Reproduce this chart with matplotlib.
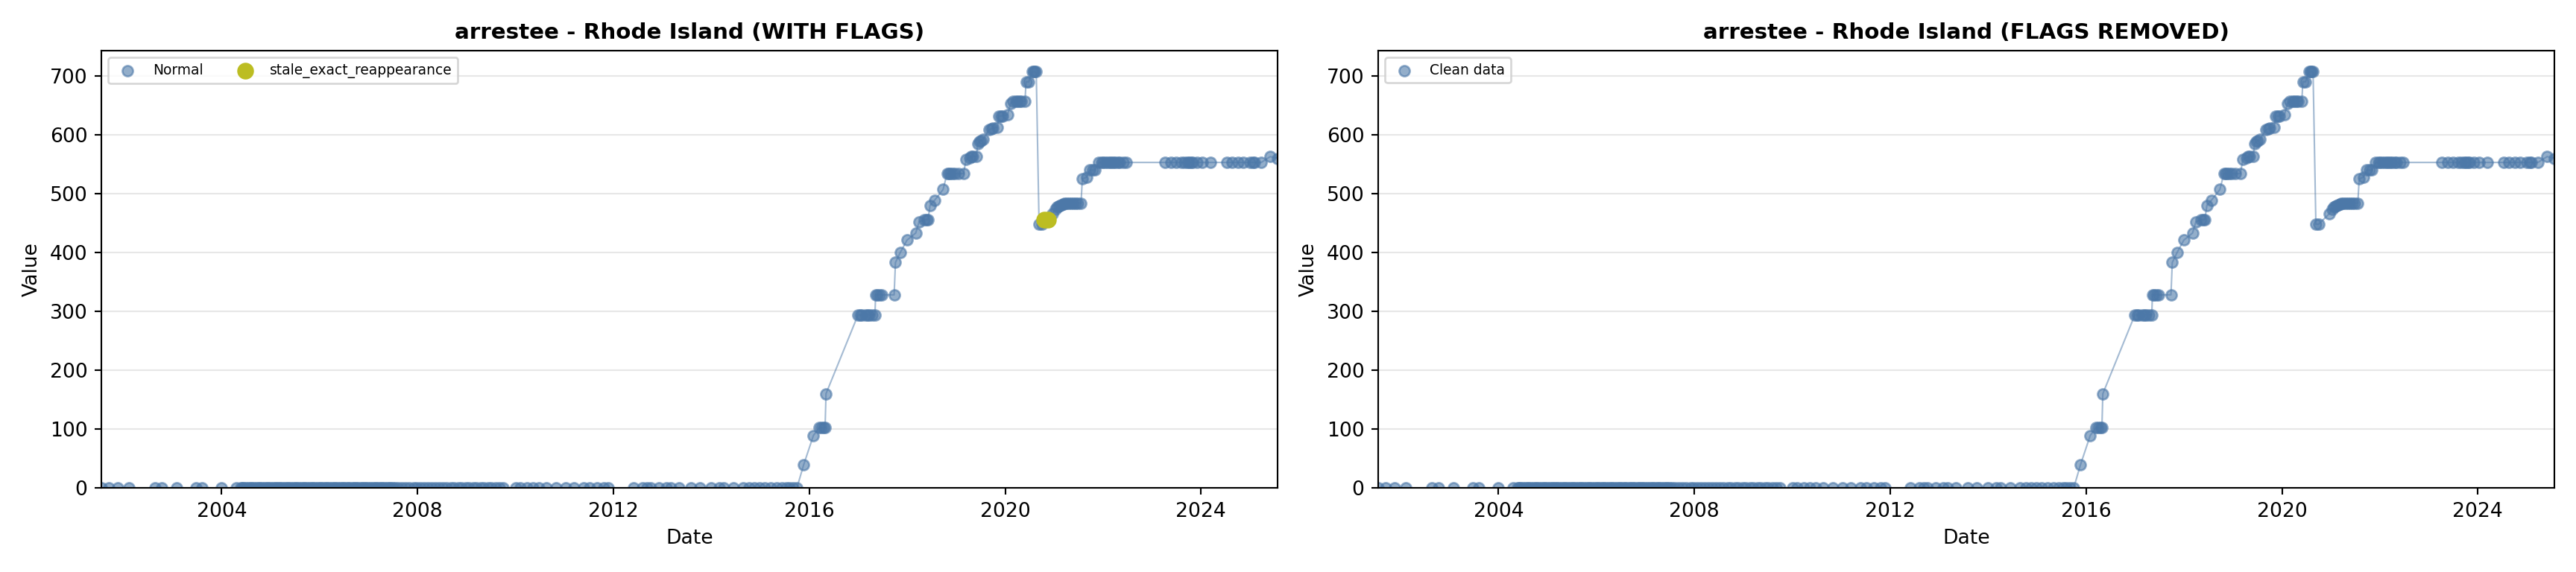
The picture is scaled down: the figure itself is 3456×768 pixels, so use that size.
import matplotlib
matplotlib.use("Agg")
import matplotlib.pyplot as plt
import matplotlib.dates as mdates
import pandas as pd

# ---- data ----
zero_dates = [
    "2001-07-18", "2001-09-10", "2001-11-15", "2002-02-10", "2002-08-25", "2002-10-10",
    "2003-02-01", "2003-06-25", "2003-08-05", "2004-01-01", "2004-04-20", "2004-05-20",
    "2004-06-01", "2004-06-15", "2004-07-01", "2004-07-15", "2004-08-01", "2004-08-15",
    "2004-09-01", "2004-09-15", "2004-10-01", "2004-10-15", "2004-11-01", "2004-11-15",
    "2004-12-01", "2004-12-15", "2005-01-01", "2005-01-15", "2005-02-01", "2005-02-15",
    "2005-03-01", "2005-03-15", "2005-04-01", "2005-04-15", "2005-05-01", "2005-05-15",
    "2005-06-01", "2005-06-15", "2005-07-01", "2005-07-15", "2005-08-01", "2005-08-15",
    "2005-09-01", "2005-09-15", "2005-10-01", "2005-10-15", "2005-11-01", "2005-11-15",
    "2005-12-01", "2005-12-15", "2006-01-01", "2006-01-15", "2006-02-01", "2006-02-15",
    "2006-03-01", "2006-03-15", "2006-04-01", "2006-04-15", "2006-05-01", "2006-05-15",
    "2006-06-01", "2006-06-15", "2006-07-01", "2006-07-15", "2006-08-01", "2006-08-15",
    "2006-09-01", "2006-09-15", "2006-10-01", "2006-10-15", "2006-11-01", "2006-11-15",
    "2006-12-01", "2006-12-15", "2007-01-01", "2007-01-15", "2007-02-01", "2007-02-15",
    "2007-03-01", "2007-03-15", "2007-04-01", "2007-04-15", "2007-05-01", "2007-05-15",
    "2007-06-01", "2007-06-15", "2007-07-01", "2007-07-15",
    "2007-08-10", "2007-09-05", "2007-10-05", "2007-11-01", "2007-12-01", "2007-12-25",
    "2008-01-25", "2008-02-20", "2008-03-20", "2008-04-15", "2008-05-15", "2008-06-10",
    "2008-07-10", "2008-08-05", "2008-09-05", "2008-10-01", "2008-11-01", "2008-11-25",
    "2008-12-25", "2009-01-20", "2009-02-20", "2009-03-15", "2009-04-15", "2009-05-10",
    "2009-06-10", "2009-07-05", "2009-08-05", "2009-09-01", "2009-10-01",
    "2010-01-01", "2010-02-05", "2010-03-25", "2010-05-10", "2010-06-25", "2010-08-20",
    "2010-10-30", "2011-01-10", "2011-03-15", "2011-05-25", "2011-07-10", "2011-09-01",
    "2011-10-20", "2011-11-25",
    "2012-06-01", "2012-08-05", "2012-09-05", "2012-10-05", "2012-12-05", "2013-02-01",
    "2013-03-05", "2013-05-05", "2013-08-01", "2013-10-05", "2013-12-28", "2014-03-01",
    "2014-04-05",
    "2014-06-17", "2014-08-25", "2014-10-08", "2014-11-15", "2014-12-28", "2015-02-05",
    "2015-03-18", "2015-05-01", "2015-06-10", "2015-07-13", "2015-08-08", "2015-09-05",
    "2015-10-01",
]

rise_dates = [
    "2015-11-20", "2016-02-01", "2016-03-15", "2016-04-01", "2016-04-15", "2016-04-28", "2016-05-05",
    "2016-12-30", "2017-01-15", "2017-01-25", "2017-02-20", "2017-03-10", "2017-03-20",
    "2017-04-15", "2017-05-05",
    "2017-05-10", "2017-05-25", "2017-06-10", "2017-06-25", "2017-09-25",
    "2017-10-05", "2017-11-10", "2017-12-30", "2018-03-05", "2018-03-30",
    "2018-05-10", "2018-05-25", "2018-06-05", "2018-06-20", "2018-07-25", "2018-09-25",
    "2018-10-25", "2018-11-10", "2018-11-20", "2018-12-05", "2018-12-20", "2019-01-20",
    "2019-02-25",
    "2019-03-15", "2019-04-10", "2019-04-25", "2019-05-05", "2019-06-01",
    "2019-06-10", "2019-06-25", "2019-07-05", "2019-07-20",
    "2019-09-05", "2019-09-20", "2019-10-01", "2019-11-05",
    "2019-11-15", "2019-12-01", "2019-12-10", "2020-01-20",
    "2020-02-10", "2020-03-01", "2020-03-20", "2020-04-01", "2020-04-20", "2020-05-01",
    "2020-05-28",
    "2020-06-05", "2020-06-25", "2020-07-20", "2020-08-01", "2020-08-10", "2020-08-20",
    "2020-09-10", "2020-09-30",
    "2020-12-20", "2021-01-08", "2021-01-20", "2021-01-30", "2021-02-12", "2021-02-25",
    "2021-03-10", "2021-03-20", "2021-04-05", "2021-04-20", "2021-05-05",
    "2021-05-25", "2021-06-10", "2021-06-25", "2021-07-20",
    "2021-07-30", "2021-08-30", "2021-09-25", "2021-10-15", "2021-11-01",
    "2021-12-01", "2021-12-20", "2022-01-01", "2022-01-20", "2022-02-01", "2022-02-20",
    "2022-03-01", "2022-03-20", "2022-04-01", "2022-04-20", "2022-05-01", "2022-06-01",
    "2022-06-20",
    "2023-04-10", "2023-05-20", "2023-07-01", "2023-08-10", "2023-09-01", "2023-09-20",
    "2023-10-01", "2023-10-20", "2023-11-01", "2023-12-01", "2024-01-10", "2024-03-10",
    "2024-07-10", "2024-08-20", "2024-10-01", "2024-11-10", "2025-01-01", "2025-01-20",
    "2025-02-01", "2025-03-25", "2025-06-01", "2025-07-25",
]
rise_values = [
    39, 89, 102, 102, 102, 102, 160,
    294, 294, 294, 294, 294, 294,
    294, 294,
    328, 328, 328, 328, 328,
    383, 400, 421, 433, 452,
    456, 456, 456, 480, 489, 507,
    534, 534, 534, 534, 534, 534,
    534,
    558, 561, 563, 563, 563,
    585, 588, 590, 592,
    609, 610, 611, 613,
    632, 632, 632, 634,
    653, 657, 657, 657, 657, 657,
    657,
    690, 690, 707, 707, 707, 707,
    448, 448,
    466, 474, 477, 479, 480, 481,
    482, 483, 484, 484, 484,
    484, 484, 484, 484,
    525, 528, 540, 540, 540,
    553, 553, 553, 553, 553, 553,
    553, 553, 553, 553, 553, 553,
    553,
    553, 553, 553, 553, 553, 553,
    553, 553, 553, 553, 553, 553,
    553, 553, 553, 553, 553, 553,
    553, 553, 563, 560,
]

stale_dates = ["2020-10-20", "2020-11-15"]
stale_values = [456, 456]

# ---- assemble ----
clean = pd.DataFrame({
    "date": pd.to_datetime(zero_dates + rise_dates),
    "value": [0] * len(zero_dates) + rise_values,
}).sort_values("date")
stale = pd.DataFrame({"date": pd.to_datetime(stale_dates), "value": stale_values})
full = pd.concat([clean, stale]).sort_values("date")

BLUE = "#4C78A8"
OLIVE = "#BCBD22"

fig = plt.figure(figsize=(18, 4), dpi=192)
ax1 = fig.add_axes([136 / 3456, 1 - 655 / 768, 1578 / 3456, 587 / 768])
ax2 = fig.add_axes([1849 / 3456, 1 - 655 / 768, 1578 / 3456, 587 / 768])

xmin, xmax = full["date"].min(), full["date"].max()

# left: with flags
ax1.plot(full["date"], full["value"], color=BLUE, alpha=0.5, linewidth=0.8, zorder=1)
ax1.scatter(clean["date"], clean["value"], color=BLUE, alpha=0.6, s=28, zorder=2, label="Normal")
ax1.scatter(stale["date"], stale["value"], color=OLIVE, alpha=1.0, s=55, zorder=3,
            label="stale_exact_reappearance")
ax1.set_title("arrestee - Rhode Island (WITH FLAGS)", fontsize=11, fontweight="bold")
ax1.legend(loc="upper left", ncol=2, fontsize=7)

# right: flags removed
ax2.plot(clean["date"], clean["value"], color=BLUE, alpha=0.5, linewidth=0.8, zorder=1)
ax2.scatter(clean["date"], clean["value"], color=BLUE, alpha=0.6, s=28, zorder=2, label="Clean data")
ax2.set_title("arrestee - Rhode Island (FLAGS REMOVED)", fontsize=11, fontweight="bold")
ax2.legend(loc="upper left", fontsize=7)

for ax in (ax1, ax2):
    ax.set_xlim(xmin, xmax)
    ax.set_ylim(0, 743)
    ax.xaxis.set_major_locator(mdates.YearLocator(4))
    ax.xaxis.set_major_formatter(mdates.DateFormatter("%Y"))
    ax.grid(axis="y", alpha=0.3)
    ax.set_axisbelow(True)
    ax.set_xlabel("Date")
    ax.set_ylabel("Value")

fig.savefig("out.png", dpi=192)
